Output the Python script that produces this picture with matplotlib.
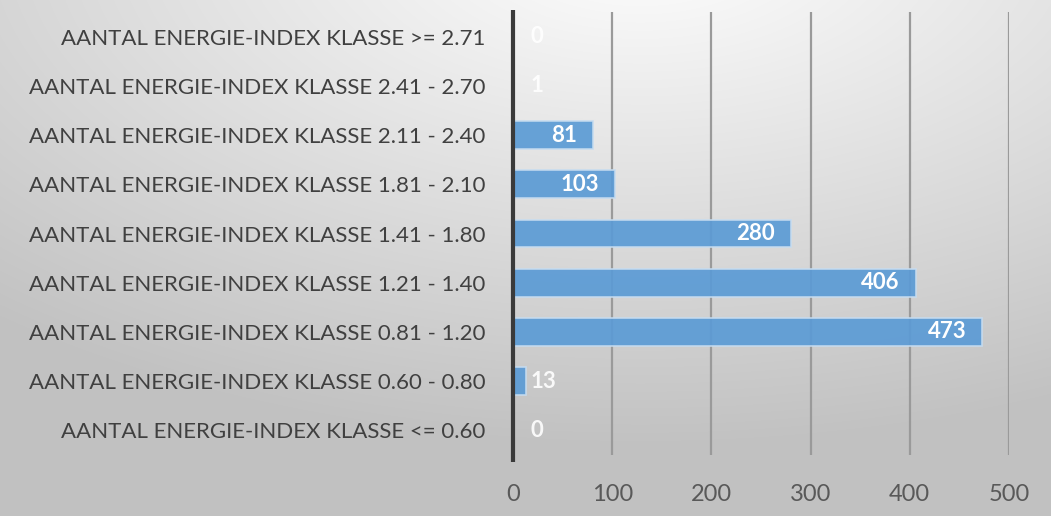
import matplotlib
matplotlib.use("Agg")

import matplotlib.pyplot as plt
import numpy as np

# ─── Data ─────────────────────────────────────────────────────────────────────
categories = [
    "AANTAL ENERGIE-INDEX KLASSE <= 0.60",
    "AANTAL ENERGIE-INDEX KLASSE 0.60 - 0.80",
    "AANTAL ENERGIE-INDEX KLASSE 0.81 - 1.20",
    "AANTAL ENERGIE-INDEX KLASSE 1.21 - 1.40",
    "AANTAL ENERGIE-INDEX KLASSE 1.41 - 1.80",
    "AANTAL ENERGIE-INDEX KLASSE 1.81 - 2.10",
    "AANTAL ENERGIE-INDEX KLASSE 2.11 - 2.40",
    "AANTAL ENERGIE-INDEX KLASSE 2.41 - 2.70",
    "AANTAL ENERGIE-INDEX KLASSE >= 2.71",
]
values = [0, 13, 473, 406, 280, 103, 81, 1, 0]
x_ticks = [0, 100, 200, 300, 400, 500]

FONT = ["Lato", "DejaVu Sans"]
W, H = 1051, 516

fig = plt.figure(figsize=(W / 100, H / 100), dpi=100)

# ─── Background: soft radial grey gradient ────────────────────────────────────
bg = fig.add_axes([0, 0, 1, 1], zorder=0)
yy, xx = np.mgrid[0:H, 0:W]
d = np.sqrt(((xx - 640) / W) ** 2 + ((yy + 60) / H) ** 2 * 0.9)
shade = np.clip(1.0 - 0.26 * d, 0.76, 0.99)
bg.imshow(np.dstack([shade] * 3), aspect="auto", extent=[0, W, H, 0])
bg.set_xlim(0, W)
bg.set_ylim(H, 0)
bg.axis("off")

# ─── Bars ─────────────────────────────────────────────────────────────────────
ax = fig.add_axes([513 / W, 1 - 455 / H, 496 / W, 443 / H], zorder=1)
ax.patch.set_alpha(0)

y = np.arange(len(categories))
ax.set_xlim(0, 500)
ax.set_ylim(-0.5, len(categories) - 0.5)

for xv in x_ticks[1:]:
    ax.plot([xv, xv], [-0.5, len(categories) - 0.5], color="#9a9a9a",
            lw=1.6, zorder=1, solid_capstyle="butt")

ax.barh(y, values, height=0.56, color="#5b9bd5", alpha=0.92,
        edgecolor="#c6dcf0", linewidth=1.2, zorder=2)

ax.plot([0, 0], [-0.65, len(categories) - 0.45], color="#3a3a3a", lw=3,
        zorder=3, clip_on=False, solid_capstyle="butt")

# values: inside end when the bar is wide enough, otherwise just right of axis
for yi, v in zip(y, values):
    if v >= 50:
        ax.text(v - 16, yi, str(v), ha="right", va="center", color="white",
                fontsize=16, fontweight="bold", family=FONT, zorder=4)
    else:
        ax.text(max(v + 5, 18), yi, str(v), ha="left", va="center",
                color="white", alpha=0.9, fontsize=16, fontweight="bold",
                family=FONT, zorder=4)

ax.set_yticks(y)
ax.set_yticklabels(categories, family=FONT, fontsize=16.0, color="#404040")
ax.set_xticks(x_ticks)
ax.set_xticklabels([str(t) for t in x_ticks], family=FONT, fontsize=17,
                   color="#595959")
ax.tick_params(axis="y", length=0, pad=20)
ax.tick_params(axis="x", length=0, pad=21)
for s in ax.spines.values():
    s.set_visible(False)

fig.savefig("out.png", dpi=100)
